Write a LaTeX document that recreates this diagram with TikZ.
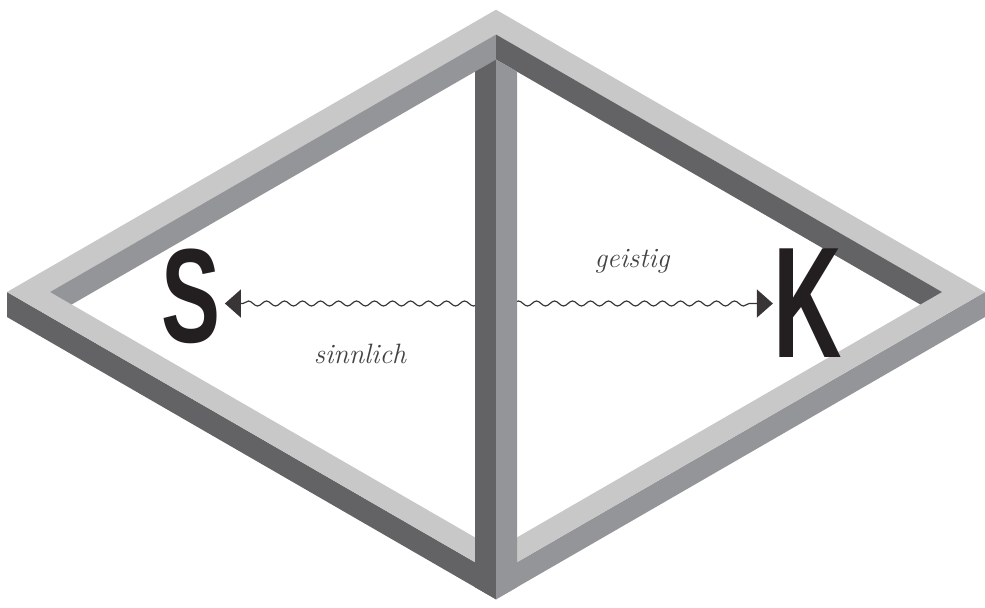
\documentclass[tikz,border=0pt]{standalone}
\usepackage{fontspec}
\newfontfamily\letterfont{Liberation Sans}
\usetikzlibrary{decorations.pathmorphing,arrows.meta,positioning,calc}
\definecolor{fLight}{RGB}{200,200,200}
\definecolor{fMid}{RGB}{148,149,153}
\definecolor{fDark}{RGB}{99,99,101}
\definecolor{fInk}{RGB}{35,31,32}
\tikzset{
  fTop/.style={fill=fLight, even odd rule},
  fMidFace/.style={fill=fMid},
  fDarkFace/.style={fill=fDark},
  sLetter/.style={inner sep=0pt, text=fInk,
                  font=\letterfont\bfseries\fontsize{67}{67}\selectfont},
  sWave/.style={draw=fInk!90, line width=0.6pt, decorate,
                decoration={snake, amplitude=1.25pt, segment length=9pt,
                            pre length=9pt, post length=9pt}},
  sArr/.style={{Triangle[length=8pt,width=14pt]}-{Triangle[length=8pt,width=14pt]}},
  sLabel/.style={inner sep=0pt, anchor=base, text=fInk!85,
                 font=\fontsize{14}{16}\selectfont\itshape},
}

\begin{document}
\begin{tikzpicture}[x=0.5pt, y=-0.5pt]
  \useasboundingbox (0,0) rectangle (985,607);
  % outer walls of the two front bars
  \fill[fDarkFace] (7,292) -- (7,317) -- (496,599.3) -- (496,574.3) -- cycle;
  \fill[fMidFace] (985,292) -- (985,317) -- (496,599.3) -- (496,574.3) -- cycle;
  % top face of the frame
  \fill[fTop] (7,292) -- (496,9.7) -- (985,292) -- (496,574.3) -- cycle
              (50,292) -- (496,34.5) -- (942,292) -- (496,549.5) -- cycle;
  % inner walls of the two back bars
  \fill[fMidFace] (50,292) -- (496,34.5) -- (496,59.5) -- (71.65,304.5) -- cycle;
  \fill[fDarkFace] (942,292) -- (496,34.5) -- (496,59.5) -- (920.35,304.5) -- cycle;

  \node[sLetter] (S) at (190.5,296.5) {\scalebox{0.66}[1]{S}};
  \node[sLetter, font=\letterfont\bfseries\fontsize{79}{79}\selectfont]
        (K) at (807.5,303.5) {\scalebox{0.6}[1]{K}};
  \draw[sWave, sArr] ($(S.east |- K.west)+(4.5,0)$) -- (K.west);
  \node[sLabel] (geistig) at (632,267) {geistig};
  \node[sLabel] (sinnlich) at (360,363) {sinnlich};

  % the post from the back corner to the front corner
  \fill[fDarkFace] (496,59.5) -- (475,71.6) -- (475,587.2) -- (496,599.3) -- cycle;
  \fill[fMidFace] (496,59.5) -- (517,71.6) -- (517,587.2) -- (496,599.3) -- cycle;
\end{tikzpicture}
\end{document}
